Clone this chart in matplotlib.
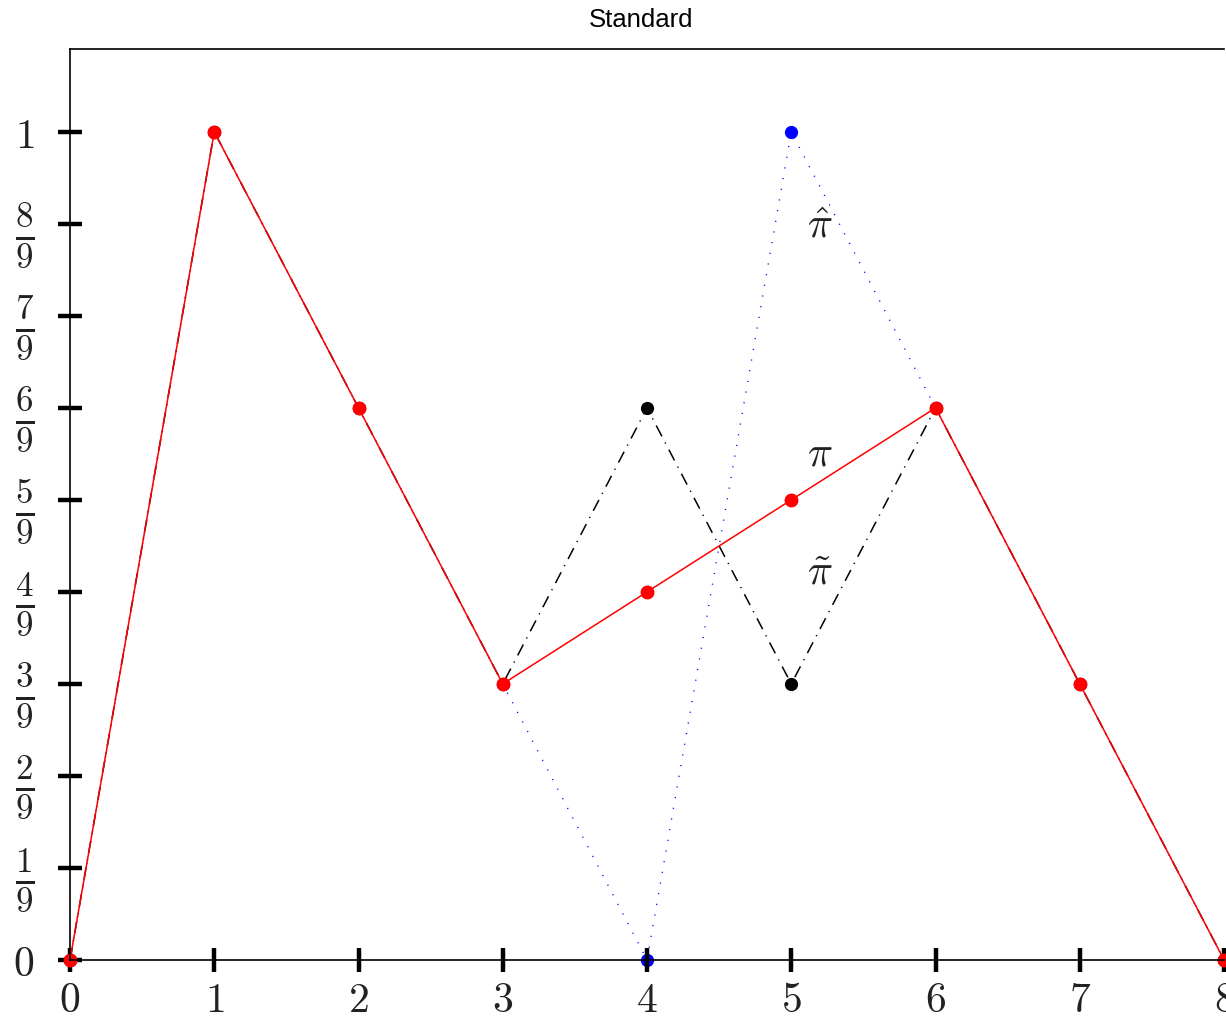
import matplotlib
matplotlib.use("Agg")
import matplotlib.pyplot as plt

plt.rcParams['mathtext.fontset'] = 'cm'

# positions 0..8 and the three permutation paths (values in ninths)
xs = [0, 1, 2, 3, 4, 5, 6, 7, 8]
pi_vals = [0, 9, 6, 3, 4, 5, 6, 3, 0]
pi_tilde_vals = [0, 9, 6, 3, 6, 3, 6, 3, 0]
pi_hat_vals = [0, 9, 6, 3, 0, 9, 6, 3, 0]

ytick_vals = [0, 1, 2, 3, 4, 5, 6, 7, 8, 9]
ytick_labels = [r'$0$'] + [r'$\frac{%d}{9}$' % k for k in range(1, 9)] + [r'$1$']

fig = plt.figure(figsize=(12.26, 10.22), dpi=100)
ax = fig.add_axes([0.0571, 0.0607, 0.9413, 0.8913])

y_pi = [v / 9 for v in pi_vals]
y_tilde = [v / 9 for v in pi_tilde_vals]
y_hat = [v / 9 for v in pi_hat_vals]

ax.plot(xs, y_hat, color='blue', lw=1.0, dashes=[0.8, 7], marker='o', ms=8.5,
        zorder=1, clip_on=False)
ax.plot(xs, y_tilde, color='black', lw=1.1, dashes=[8, 4.5, 0.8, 4.5], marker='o', ms=8.5,
        zorder=1.5, clip_on=False)
ax.plot(xs, y_pi, '-', color='red', lw=1.1, marker='o', ms=9, zorder=2, clip_on=False)

ax.text(5.2, 0.887, r'$\hat{\pi}$', fontsize=30, ha='center', va='center', color='#222222')
ax.text(5.2, 0.612, r'$\pi$', fontsize=30, ha='center', va='center', color='#222222')
ax.text(5.2, 0.468, r'$\tilde{\pi}$', fontsize=30, ha='center', va='center', color='#222222')

ax.set_xlim(0, 8)
ax.set_ylim(0, 1.1)
ax.set_xticks(xs)
ax.set_xticklabels([r'$%d$' % x for x in xs])
ax.set_yticks([v / 9 for v in ytick_vals])
ax.set_yticklabels(ytick_labels)
ax.tick_params(axis='both', direction='inout', length=17, width=3.2, labelsize=30,
               color='black', labelcolor='#222222')
ax.tick_params(axis='x', pad=5)
ax.tick_params(axis='y', pad=17)
# fractions a bit larger so they read like the whole numbers
for lab in ax.get_yticklabels()[1:-1]:
    lab.set_fontsize(36)
ax.spines['right'].set_visible(False)
for s in ['left', 'bottom', 'top']:
    ax.spines[s].set_linewidth(1.2)

ax.set_title('Standard', fontsize=18.5, fontfamily='Liberation Sans', pad=16, x=0.495)

fig.savefig('out.png', dpi=100)
